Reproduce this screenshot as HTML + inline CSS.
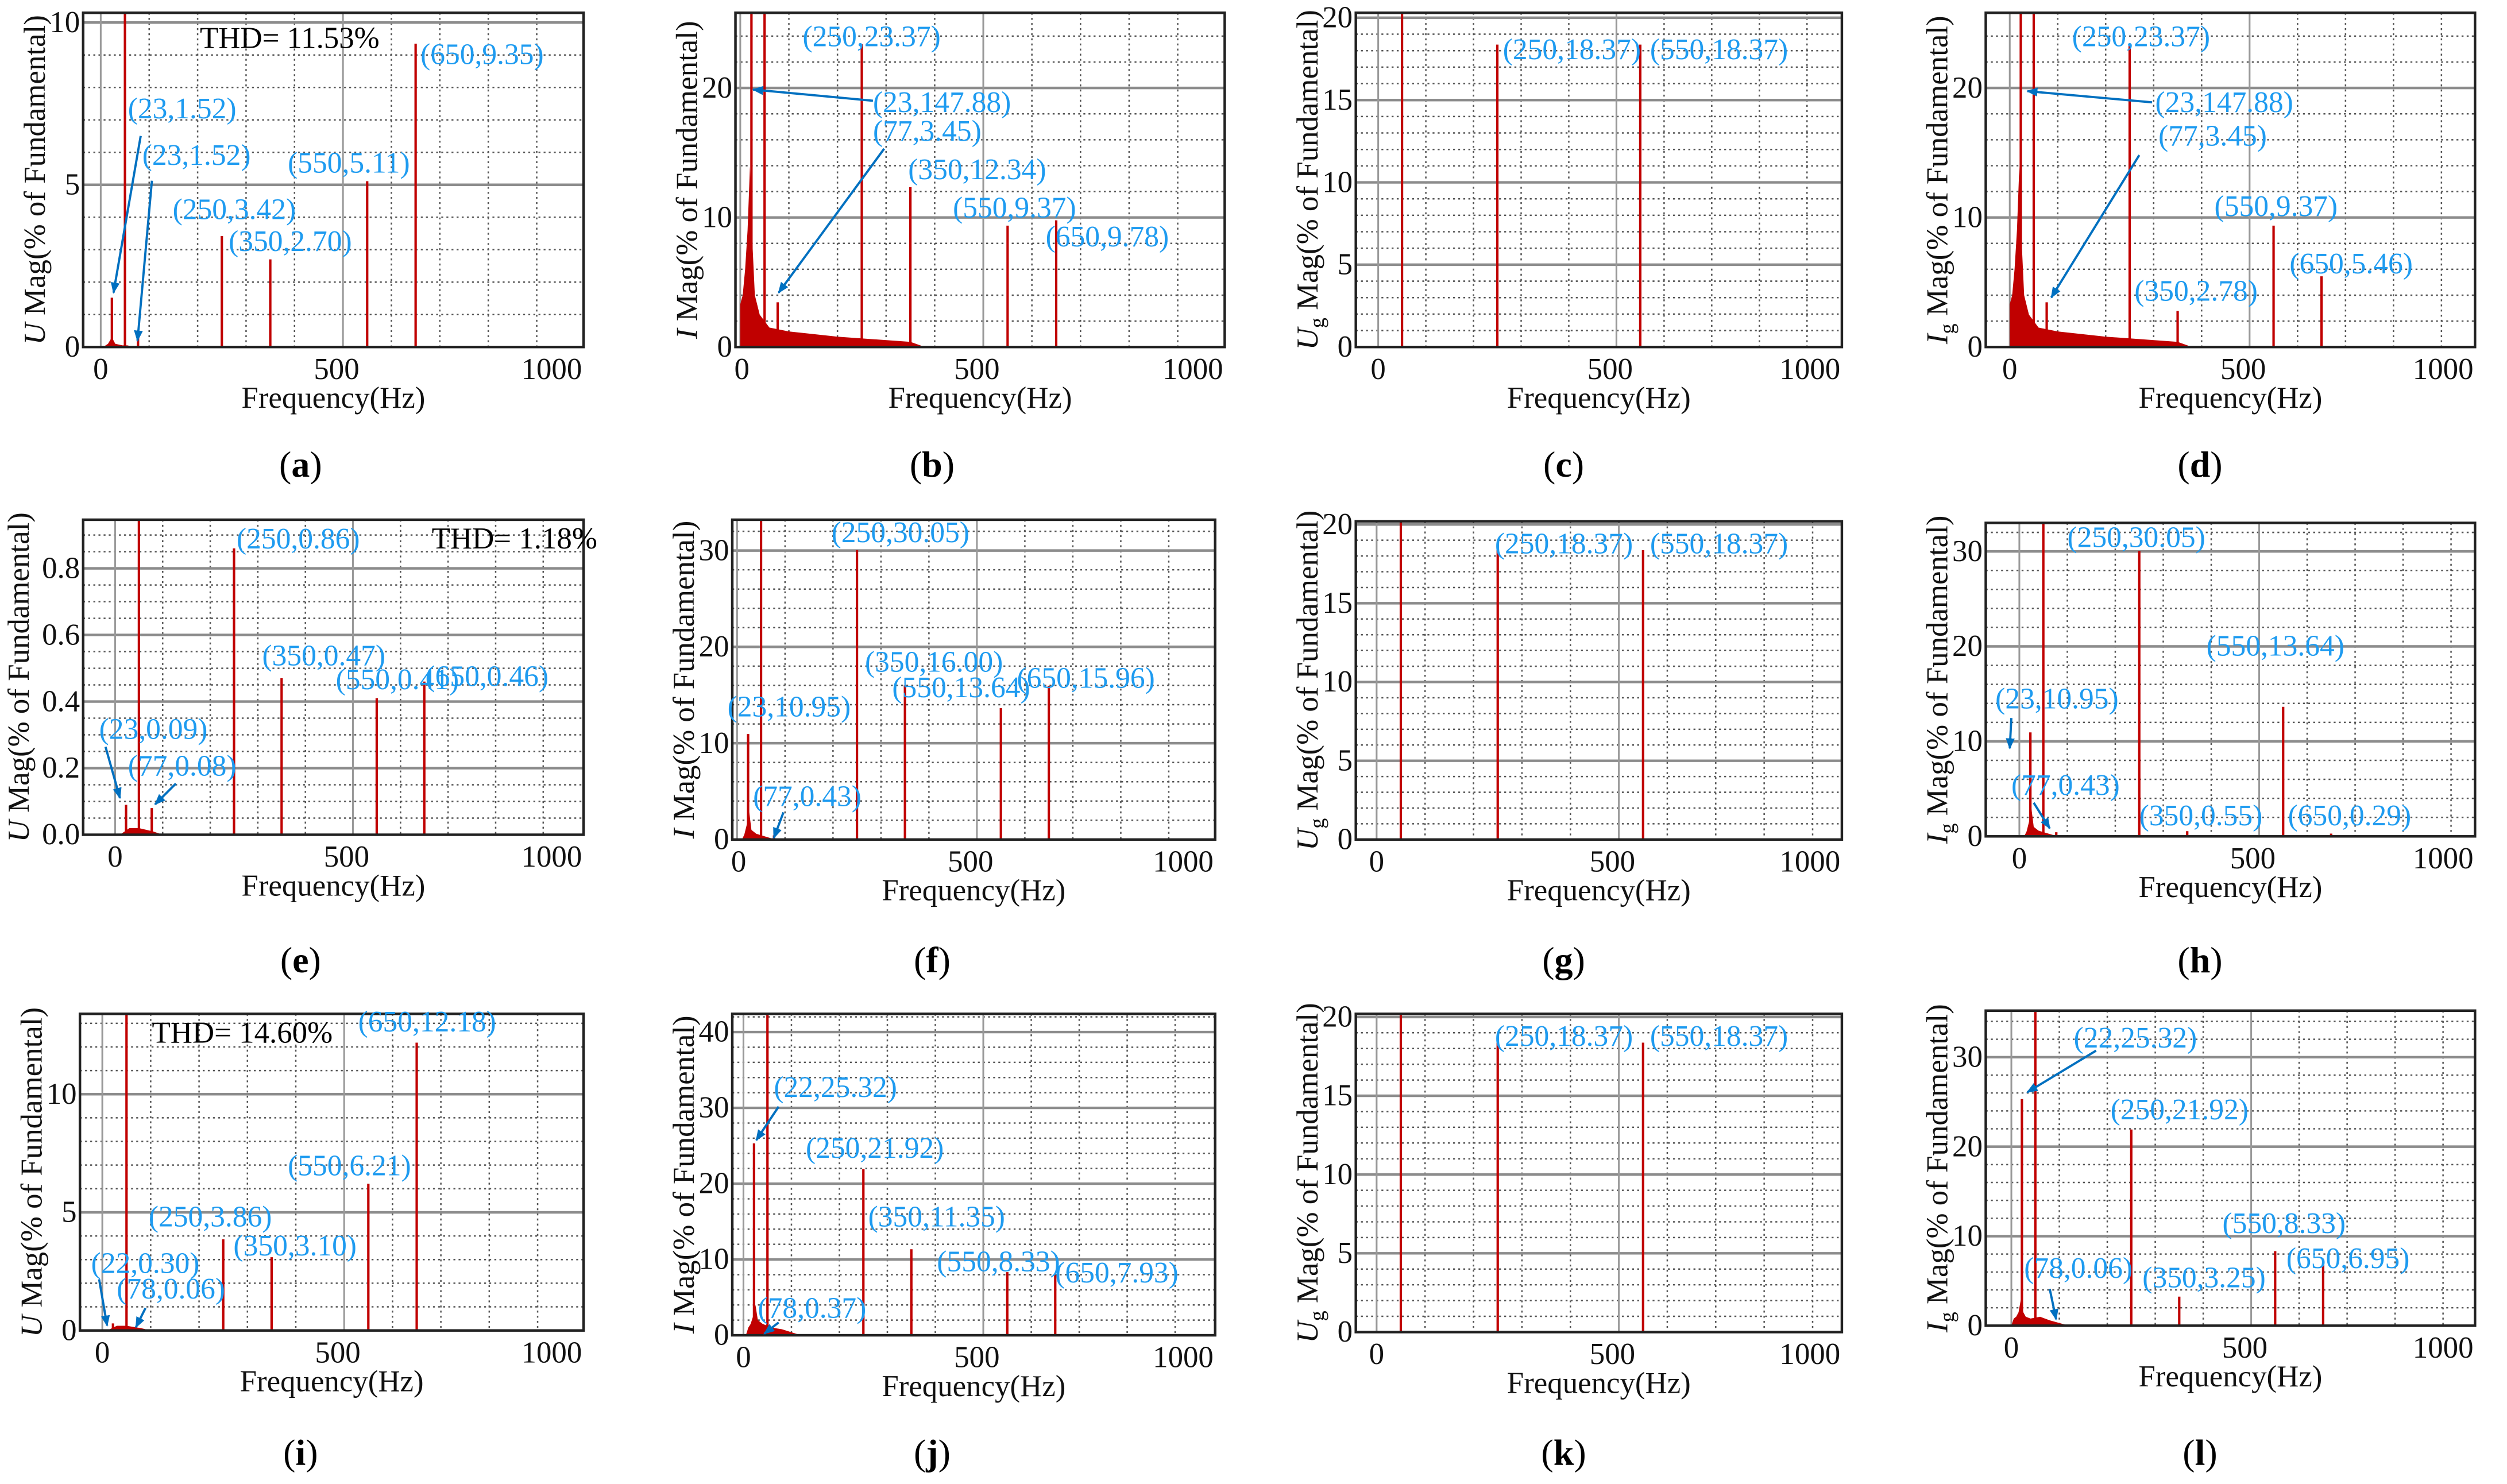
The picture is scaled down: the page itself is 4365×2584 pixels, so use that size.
<!DOCTYPE html>
<html><head><meta charset="utf-8"><style>
html,body{margin:0;padding:0;background:#fff}
svg{display:block}
text{font-family:"Liberation Serif",serif}
</style></head><body>
<svg id="fig" xmlns="http://www.w3.org/2000/svg" width="4365" height="2584" viewBox="0 0 1568 928" preserveAspectRatio="none">
<defs><marker id="ah" viewBox="0 0 10 10" refX="9" refY="5" markerWidth="7" markerHeight="7" orient="auto-start-reverse" markerUnits="userSpaceOnUse"><path d="M0,1 L10,5 L0,9 z" fill="#0070c0"/></marker></defs>
</svg>
<script>
// ---- data ----
const panelIds = ['a','b','c','d','e','f','g','h','i','j','k','l'];
const yTitleVar = ['U','I','U','I','U','I','U','I','U','I','U','I'];
const yTitleSub = ['','','g','g','','','g','g','','','g','g'];
const yMaxes = [10.3,25.8,20.3,25.8,0.946,33.2,20.2,33,13.4,42.4,20.2,35.2];
const yMajor = [5,10,5,10,0.2,10,5,10,5,10,5,10];
const yMinor = [1,2,1,2,0.05,2,1,2,1,2,1,2];
const yTickDigits = [0,0,0,0,1,0,0,0,0,0,0,0];
const xTicks = [0,500,1000];
const barFreqs = [
 [23,50,77,250,350,550,650],
 [23,50,77,250,350,550,650],
 [50,250,550],
 [23,50,77,250,350,550,650],
 [23,50,77,250,350,550,650],
 [23,50,77,250,350,550,650],
 [50,250,550],
 [23,50,77,250,350,550,650],
 [22,50,78,250,350,550,650],
 [22,50,78,250,350,550,650],
 [50,250,550],
 [22,50,78,250,350,550,650]];
const barMags = [
 [1.52,100,0.52,3.42,2.70,5.11,9.35],
 [147.88,100,3.45,23.37,12.34,9.37,9.78],
 [100,18.37,18.37],
 [147.88,100,3.45,23.37,2.78,9.37,5.46],
 [0.09,100,0.08,0.86,0.47,0.41,0.46],
 [10.95,100,0.43,30.05,16.00,13.64,15.96],
 [100,18.37,18.37],
 [10.95,100,0.43,30.05,0.55,13.64,0.29],
 [0.30,100,0.06,3.86,3.10,6.21,12.18],
 [25.32,100,0.37,21.92,11.35,8.33,7.93],
 [100,18.37,18.37],
 [25.32,100,0.06,21.92,3.25,8.33,6.95]];
const humpFreqs = [
 [5,15,23,30,45,55,70],
 [0,5,10,15,20,25,30,40,60,100,200,350,380],
 [],
 [0,5,10,15,20,25,30,40,60,100,200,350,380],
 [10,20,30,50,80,100],
 [10,15,20,25,30,40,60,80],
 [],
 [10,15,20,25,30,40,60,80],
 [10,20,30,50,80,100],
 [5,10,15,20,25,30,40,60,80,100,120],
 [],
 [0,5,10,15,20,25,30,40,60,80,100,120]];
const humpMags = [
 [0,0.1,0.3,0.1,0.05,0.05,0],
 [3.3,4,6,9,14,8,4,2.5,1.5,1.2,0.8,0.4,0],
 [],
 [3.3,4,6,9,14,8,4,2.5,1.5,1.2,0.8,0.4,0],
 [0,0.01,0.02,0.02,0.01,0],
 [0,0.5,1.5,3,1,0.6,0.3,0],
 [],
 [0,0.5,1.5,3,1,0.6,0.3,0],
 [0,0.1,0.2,0.2,0.1,0],
 [0,1,1.5,2.5,4,2,1.5,1,0.8,0.4,0],
 [],
 [0,0.8,1,1.5,3,1.5,1,0.8,1,0.6,0.3,0]];
const thdText = ['THD= 11.53%','','','','THD= 1.18%','','','','THD= 14.60%','','',''];
const annTexts = [
 ['(650,9.35)','(23,1.52)','(23,1.52)','(550,5.11)','(250,3.42)','(350,2.70)'],
 ['(250,23.37)','(23,147.88)','(77,3.45)','(350,12.34)','(550,9.37)','(650,9.78)'],
 ['(250,18.37)','(550,18.37)'],
 ['(250,23.37)','(23,147.88)','(77,3.45)','(550,9.37)','(350,2.78)','(650,5.46)'],
 ['(250,0.86)','(350,0.47)','(550,0.41)','(650,0.46)','(23,0.09)','(77,0.08)'],
 ['(250,30.05)','(350,16.00)','(550,13.64)','(650,15.96)','(23,10.95)','(77,0.43)'],
 ['(250,18.37)','(550,18.37)'],
 ['(250,30.05)','(23,10.95)','(550,13.64)','(77,0.43)','(350,0.55)','(650,0.29)'],
 ['(650,12.18)','(550,6.21)','(250,3.86)','(22,0.30)','(350,3.10)','(78,0.06)'],
 ['(22,25.32)','(250,21.92)','(350,11.35)','(550,8.33)','(650,7.93)','(78,0.37)'],
 ['(250,18.37)','(550,18.37)'],
 ['(22,25.32)','(250,21.92)','(550,8.33)','(650,6.95)','(78,0.06)','(350,3.25)']];
// ---- layout (not data) ----
const boxes = [
 [52,8,365,217,63,.303],[460,8,766,217,463,.304],[848,8,1152,217,862,.298],[1242,8,1548,217,1257,.3],
 [52,325,365,522,72,.2975],[458,325,760,525,461,.3],[848,326,1152,525,861,.303],[1242,327,1548,523,1263,.3],
 [50,634,365,832,64,.3025],[458,634,760,835,465,.3],[848,634,1152,833,861,.303],[1242,632,1548,829,1258,.3]];
const yTitleOffset = [24,24,24,24,34,24,24,24,24,24,24,24];
const annPos = [
 [[263,40],[80,74],[89,103],[180,108],[108,137],[143,157]],
 [[502,29],[546,70],[546,88],[568,112],[596,136],[654,154]],
 [[940,37],[1032,37]],
 [[1296,29],[1348,70],[1350,91],[1385,135],[1335,188],[1432,171]],
 [[148,343],[164,416],[210,431],[266,429],[62,462],[80,485]],
 [[520,339],[541,420],[558,436],[636,430],[455,448],[471,504]],
 [[935,346],[1032,346]],
 [[1293,342],[1248,443],[1380,410],[1258,497],[1338,516],[1431,516]],
 [[224,645],[180,735],[93,767],[57,796],[146,785],[73,812]],
 [[484,686],[504,724],[543,767],[586,795],[660,802],[474,824]],
 [[935,654],[1032,654]],
 [[1297,655],[1320,700],[1390,771],[1430,793],[1266,799],[1340,805]]];
const thdPos = [[125,30],[0,0],[0,0],[0,0],[270,343],[0,0],[0,0],[0,0],[95,652],[0,0],[0,0],[0,0]];
const arrows = [
 [[88,85,71,183],[95,113,86,213]],
 [[546,63,471,56],[553,93,487,183]],
 [],
 [[1346,64,1268,57],[1338,97,1283,186]],
 [[66,467,75,499],[110,490,97,503]],
 [[490,508,484,524]],
 [],
 [[1258,449,1257,468],[1272,502,1282,518]],
 [[62,800,67,829],[91,818,85,830]],
 [[487,692,473,713],[487,827,478,834]],
 [],
 [[1311,657,1268,683],[1282,806,1286,825]]];
const letterX = [188,583,978,1376];
const letterY = [298,608,916];

const NS='http://www.w3.org/2000/svg';
const svg=document.getElementById('fig');
function mk(tag,attrs,parent){const e=document.createElementNS(NS,tag);for(const k in attrs)e.setAttribute(k,attrs[k]);(parent||svg).appendChild(e);return e;}

panelIds.forEach((pid,p)=>{
  const [L,T,R,B,x0,k]=boxes[p];
  const xs=f=>x0+f*k;
  const ys=v=>B-(Math.min(v,yMaxes[p]*1.05))/yMaxes[p]*(B-T);
  const g=mk('g',{});
  
  
  const clipId='clip'+pid;
  const cp=mk('clipPath',{id:clipId},g);mk('rect',{x:L,y:T,width:R-L,height:B-T},cp);
  const grid=mk('g',{'clip-path':'url(#'+clipId+')'},g);
  
  
  for(let v=yMinor[p];v<yMaxes[p];v+=yMinor[p]){
    const r=v/yMajor[p];
    if(Math.abs(r-Math.round(r))<1e-6)continue;
    mk('line',{x1:L,x2:R,y1:ys(v),y2:ys(v),stroke:'#555','stroke-width':0.9,'stroke-dasharray':'1.2 2'},grid);
  }
  for(let f=100;f<=1100;f+=100){
    if(f%500===0)continue;
    const x=xs(f);if(x>R)break;
    mk('line',{x1:x,x2:x,y1:T,y2:B,stroke:'#555','stroke-width':0.9,'stroke-dasharray':'1.2 2'},grid);
  }
  for(let v=yMajor[p];v<yMaxes[p]+1e-9;v+=yMajor[p]){
    mk('line',{x1:L,x2:R,y1:ys(v),y2:ys(v),stroke:'#8c8c8c','stroke-width':1.6},grid);
  }
  xTicks.forEach(t=>{const x=xs(t);if(x>=L&&x<=R)mk('line',{x1:x,x2:x,y1:T,y2:B,stroke:'#999','stroke-width':1.1},grid);});
  const hf=humpFreqs[p],hm=humpMags[p];
  if(hf.length){
    let d='M'+xs(hf[0])+','+B;
    hf.forEach((f,i)=>{d+=' L'+xs(f)+','+ys(hm[i]);});
    d+=' L'+xs(hf[hf.length-1])+','+B+' Z';
    const h=mk('path',{d:d,fill:'#c00000'},grid);
    
    
  }
  barFreqs[p].forEach((f,i)=>{
    const x=xs(f);
    const b=mk('line',{x1:x,x2:x,y1:B,y2:ys(barMags[p][i]),stroke:'#c00000','stroke-width':1.5},grid);
    
    
  });
  const fr=mk('rect',{x:L,y:T,width:R-L,height:B-T,fill:'none',stroke:'#222','stroke-width':1.6},g);
  
  
  for(let v=0;v<yMaxes[p]+1e-9;v+=yMajor[p]){
    const t=mk('text',{x:L-2,y:ys(v)+6,'text-anchor':'end','font-size':19,fill:'#111'},g);
    t.textContent=(yTickDigits[p]?v.toFixed(1):Math.round(v)).toString();
    
    
  }
  xTicks.forEach(tv=>{
    let x=xs(tv);
    if(tv===0)x=Math.max(x,L+4);
    if(tv===500)x=x-4;
    if(tv===1000)x=Math.min(x,R-20);
    const t=mk('text',{x:x,y:B+20,'text-anchor':'middle','font-size':19,fill:'#111'},g);
    t.textContent=tv;
    
    
  });
  const xl=mk('text',{x:(L+R)/2,y:B+38,'text-anchor':'middle','font-size':19,fill:'#111'},g);
  xl.textContent='Frequency(Hz)';
  
  
  const cy=(T+B)/2, cx=L-yTitleOffset[p];
  const yl=mk('text',{x:cx,y:cy,'text-anchor':'middle','font-size':19,fill:'#111',transform:'rotate(-90 '+cx+' '+cy+')'},g);
  
  
  const s1=mk('tspan',{'font-style':'italic'},yl);s1.textContent=yTitleVar[p];
  if(yTitleSub[p]){const s2=mk('tspan',{'font-size':13,dy:4},yl);s2.textContent=yTitleSub[p];const s3=mk('tspan',{dy:-4},yl);s3.textContent=' Mag(% of Fundamental)';}
  else{const s3=mk('tspan',{},yl);s3.textContent=' Mag(% of Fundamental)';}
  arrows[p].forEach(a=>{
    const l=mk('line',{x1:a[0],y1:a[1],x2:a[2],y2:a[3],stroke:'#0070c0','stroke-width':1.4,'marker-end':'url(#ah)'},g);
    
    
  });
  annTexts[p].forEach((s,i)=>{
    const t=mk('text',{x:annPos[p][i][0],y:annPos[p][i][1],'font-size':18.5,fill:'#1e9bf0'},g);
    t.textContent=s;
    
    
  });
  if(thdText[p]){
    const t=mk('text',{x:thdPos[p][0],y:thdPos[p][1],'font-size':19,fill:'#000'},g);
    t.textContent=thdText[p];
    
    
  }
  const lt=mk('text',{x:letterX[p%4],y:letterY[Math.floor(p/4)],'text-anchor':'middle','font-size':23,fill:'#000'},g);
  
  
  mk('tspan',{},lt).textContent='(';
  mk('tspan',{'font-weight':'bold'},lt).textContent=pid;
  mk('tspan',{},lt).textContent=')';
});
</script>
</body></html>
